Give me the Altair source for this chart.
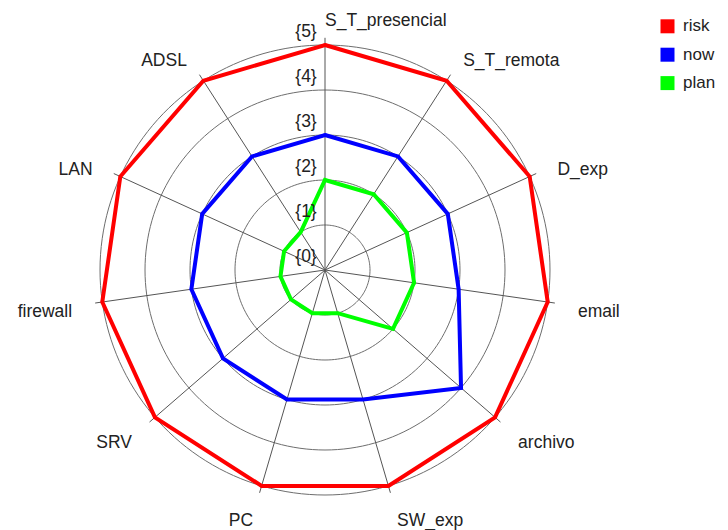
import altair as alt
import pandas as pd

categories = ["S_T_presencial", "S_T_remota", "D_exp", "email", "archivo",
              "SW_exp", "PC", "SRV", "firewall", "LAN", "ADSL"]
risk = [5, 5, 5, 5, 5, 5, 5, 5, 5, 5, 5]
now = [3, 3, 3, 3, 4, 3, 3, 3, 3, 3, 3]
plan = [2, 2, 2, 2, 2, 1, 1, 1, 1, 1, 1]
series_names = ["risk", "now", "plan"]
series_colors = ["#ff0000", "#0000ff", "#00ff00"]
levels = [0, 1, 2, 3, 4, 5]
level_labels = ["{0}", "{1}", "{2}", "{3}", "{4}", "{5}"]
ring_levels = [1, 2, 3, 4, 5]

N = len(categories)
FONT = "Liberation Sans"
TXT = "#222222"
W, H = 712, 522
CX, CY = 317, 262  # plot centre inside the svg
U = 45.0           # pixels per unit

rows = []
for name, vals in zip(series_names, [risk, now, plan]):
    for i, (c, v) in enumerate(zip(categories, vals)):
        rows.append({"series": name, "category": c, "idx": i, "value": v})
series_df = pd.DataFrame(rows)

cat_df = pd.DataFrame({"category": categories, "idx": list(range(N))})
lvl_df = pd.DataFrame({"level": levels, "label": level_labels})
ring_df = pd.DataFrame([{"level": k, "step": s} for k in ring_levels for s in range(180)])

ang = f"datum.idx * 2 * PI / {N}"

xs = alt.Scale(domain=[-CX / U, (W - CX) / U], nice=False, zero=False)
ys = alt.Scale(domain=[-(H - CY) / U, CY / U], nice=False, zero=False)
X = lambda f: alt.X(f, type="quantitative", scale=xs, axis=None)
Y = lambda f: alt.Y(f, type="quantitative", scale=ys, axis=None)

color_scale = alt.Scale(domain=series_names, range=series_colors)

pts = alt.Chart(series_df).transform_calculate(
    a=ang,
    x="datum.value * sin(datum.a)",
    y="datum.value * cos(datum.a)",
).mark_point(shape="square", filled=True, size=9, opacity=1, strokeWidth=0).encode(
    x=X("x"), y=Y("y"),
    fill=alt.Fill("series:N", scale=color_scale,
                  legend=alt.Legend(title=None, orient="none", legendX=651, legendY=9.8,
                                    symbolType="square", symbolSize=196,
                                    labelFontSize=17, labelFont=FONT, labelColor=TXT,
                                    rowPadding=10.4, labelOffset=7, padding=0,
                                    symbolStrokeWidth=0, symbolOpacity=1)),
)

rings = alt.Chart(ring_df).transform_calculate(
    a="datum.step * 2 * PI / 180",
    x="datum.level * sin(datum.a)",
    y="datum.level * cos(datum.a)",
).mark_line(interpolate="linear-closed", color="#6e6e6e", strokeWidth=1).encode(
    x=X("x"), y=Y("y"), detail="level:N", order="step:Q"
)

spokes = alt.Chart(cat_df).transform_calculate(
    a=ang,
    x0="0", y0="0",
    x1="5.16 * sin(datum.a)",
    y1="5.16 * cos(datum.a)",
).mark_rule(color="#555555", strokeWidth=1).encode(
    x=X("x0"), y=Y("y0"), x2="x1:Q", y2="y1:Q"
)

lines = alt.Chart(series_df).transform_calculate(
    a=ang,
    x="datum.value * sin(datum.a)",
    y="datum.value * cos(datum.a)",
).mark_line(interpolate="linear-closed", strokeWidth=4, strokeJoin="miter").encode(
    x=X("x"), y=Y("y"),
    stroke=alt.Stroke("series:N", scale=color_scale, legend=None),
    order="idx:Q",
)

LR = 255.5 / U
lab_base = alt.Chart(cat_df).transform_calculate(
    a=ang,
    s="sin(datum.a)",
    x=f"{LR} * sin(datum.a)",
    y=f"{LR} * cos(datum.a)",
)
labels_right = lab_base.transform_filter("datum.s > -1e-6").mark_text(
    align="left", baseline="alphabetic", dy=11, font=FONT, fontSize=17.5, color=TXT
).encode(x=X("x"), y=Y("y"), text="category:N")
labels_left = lab_base.transform_filter("datum.s <= -1e-6").mark_text(
    align="right", baseline="alphabetic", dy=11, font=FONT, fontSize=17.5, color=TXT
).encode(x=X("x"), y=Y("y"), text="category:N")

lvl_labels = alt.Chart(lvl_df).transform_calculate(
    x=f"-19 / {U}",
    y="datum.level + 0.3",
).mark_text(align="center", baseline="middle", font=FONT, fontSize=17.5, color=TXT).encode(
    x=X("x"), y=Y("y"), text="label:N"
)

chart = alt.layer(
    pts, rings, spokes, lines, labels_right, labels_left, lvl_labels
).properties(
    width=W, height=H, padding=0, autosize=alt.AutoSizeParams(type="none"),
    background="white",
).configure_view(stroke=None)

chart.save("out.html", embed_options={"renderer": "svg", "actions": False})
